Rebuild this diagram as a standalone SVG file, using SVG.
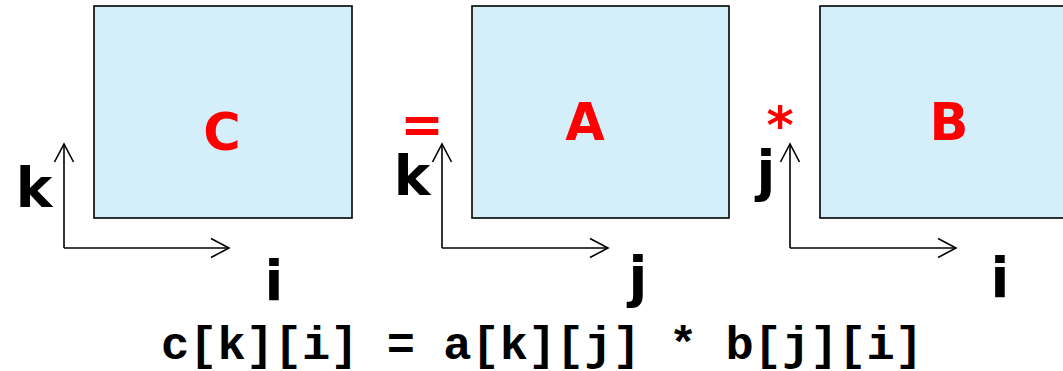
<svg xmlns="http://www.w3.org/2000/svg" width="1063" height="371" viewBox="0 0 1063 371">
<style>
.mat{fill:#d4effa;stroke:#000;stroke-width:1.6}
.name{font-family:"DejaVu Sans",Verdana,sans-serif;font-weight:bold;font-size:51px;fill:#ff0000;text-anchor:middle}
.op{font-family:"DejaVu Sans",Verdana,sans-serif;font-weight:bold;font-size:52px;fill:#ff0000;text-anchor:middle}
.lbl{font-family:"DejaVu Sans",Verdana,sans-serif;font-weight:bold;font-size:55px;fill:#000;text-anchor:middle}
.axis{fill:none;stroke:#000;stroke-width:1.6;marker-end:url(#open)}
.code{font-family:"Liberation Mono","Courier New",monospace;font-weight:bold;font-size:47px;fill:#000}
</style>
<defs>
<marker id="open" markerUnits="userSpaceOnUse" markerWidth="24" markerHeight="24" viewBox="-20 -12 24 24" refX="0" refY="0" orient="auto">
<path d="M-18,-9.5 L0,0 L-18,9.5" fill="none" stroke="#000" stroke-width="1.6"/>
</marker>
</defs>
<g id="matC">
<rect class="mat" x="94" y="6" width="258" height="212"/>
<text class="name" x="222" y="150">C</text>
</g>
<g id="opEq">
<text class="op" x="422" y="142">=</text>
</g>
<g id="matA">
<rect class="mat" x="472" y="6" width="257" height="212"/>
<text class="name" x="585" y="140">A</text>
</g>
<g id="opMul">
<text class="op" x="780" y="143">*</text>
</g>
<g id="matB">
<rect class="mat" x="820" y="6" width="258" height="212"/>
<text class="name" x="949" y="140">B</text>
</g>
<g id="connectors">
<path class="axis" d="M64,248 V144"/>
<path class="axis" d="M64,248 H229"/>
<path class="axis" d="M442,248 V144"/>
<path class="axis" d="M442,248 H608"/>
<path class="axis" d="M790,248 V144"/>
<path class="axis" d="M790,248 H956"/>
</g>
<g id="labels">
<text class="lbl" x="34" y="207">k</text>
<text class="lbl" x="274" y="300">i</text>
<text class="lbl" x="412" y="195">k</text>
<text class="lbl" x="638" y="296">j</text>
<text class="lbl" x="766" y="190">j</text>
<text class="lbl" x="1000" y="297">i</text>
</g>
<g id="formula">
<text class="code" x="161" y="359" textLength="762" lengthAdjust="spacing">c[k][i] = a[k][j] * b[j][i]</text>
</g>
</svg>
